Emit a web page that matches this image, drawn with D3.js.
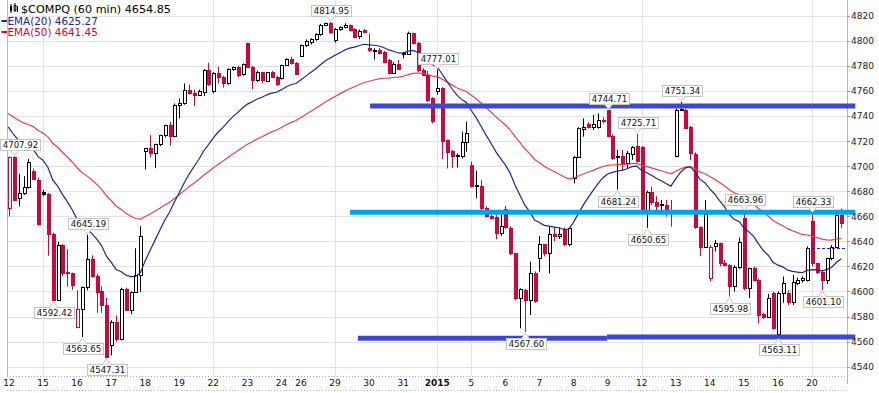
<!DOCTYPE html>
<html><head><meta charset="utf-8">
<script src="https://cdn.jsdelivr.net/npm/d3@7"></script>
<style>
html,body{margin:0;padding:0;background:#fff;}
svg{display:block;}
</style></head><body>
<svg id="chart" width="879" height="393"></svg>
<script>
// ---------------- DATA ----------------
const dayLabels = ["12","15","16","17","18","19","22","23","24","26","29","30","31","2015","5","6","7","8","9","12","13","14","15","16","20"];
const dayStart  = [0,7,14,21,28,35,42,49,56,60,67,74,81,88,95,102,109,116,123,130,137,144,151,158,165];
const gridDayStart = [7,42,67,88,95,130,165];
const yTickValues = [4540,4560,4580,4600,4620,4640,4660,4680,4700,4720,4740,4760,4780,4800,4820];

const opens = [
4666.4,4707.5,4674.4,4678.3,4683.6,4696,4689,
4679.6,4677.8,4646,4593,4637,4615.5,4614.5,
4571.9,4585.8,4603.2,4625.7,4612.3,4600,4589,
4557.3,4575.4,4562,4602,4585.5,4599.4,4613.2,
4712.3,4714.2,4710.7,4717.7,4724.8,4732.8,4724.3,
4749,4750,4760.7,4758.6,4757,4759,4776.7,
4760,4774,4771.4,4766,4777.2,4779,4773.2,
4798,4779.3,4768.7,4774.8,4768.2,4774.8,4771.4,
4770,4780.7,4785.5,4782,
4788.1,4796.6,4799.3,4801.4,4805.1,4812.6,4814,
4801,4809.1,4810.7,4812.6,4809,4803.8,4808.5,
4794,4792.5,4793,4791,4784.7,4774.6,4781.5,
4790.5,4789.5,4805.9,4798,4777,4773,4754,
4760.24,4762,4720.8,4712,4708.5,4708,4719.5,
4700.9,4684.8,4684.3,4666.3,4660.5,4659.7,4646.4,
4666,4651,4630.4,4595,4601.5,4593.5,4614.5,
4627,4637.6,4631,4645.6,4644,4650,4637.6,
4690.3,4707.6,4729.5,4733.6,4731.5,4731,4736.8,
4744.5,4724,4708.2,4708,4702.2,4710,4716,
4715.5,4665,4679.6,4671,4669.5,4669,4664.5,
4708.1,4744.8,4745,4731,4710,4651.7,4635.8,
4610.5,4636,4638.4,4622.5,4621.5,4604,4619.5,
4658.4,4602.5,4618.5,4609.2,4582,4580,4598.5,
4566,4598.5,4599,4592,4607,4609,4609.2,
4656.5,4622.5,4615.8,4609.2,4626.5,4635.8,4661];

const highs = [
4707.5,4707.92,4694,4692,4705.7,4698,4691,
4681,4678.5,4647,4639.7,4638,4633.7,4615,
4601,4604,4645.19,4629,4614,4604,4595,
4577,4581,4603,4603,4600,4634.5,4652.2,
4714.5,4724.8,4718,4725,4733,4735.5,4750,
4754,4766,4765,4761,4761,4777.5,4782.5,
4775,4779.3,4772,4778,4779.5,4780,4782,
4798.5,4780,4776,4775,4775,4776,4772,
4781,4786,4787.3,4783,
4797,4801,4802,4806,4813.5,4814.5,4814.95,
4810,4811.5,4814,4813,4810,4809,4809.5,
4805.9,4794,4794,4792,4785.5,4783,4784.5,
4791,4807.3,4806.5,4799,4778,4776,4755,
4777.01,4763,4721,4713,4710,4727.5,4735.5,
4703.6,4696.4,4689,4668,4661,4661,4662.4,
4668.2,4652,4631,4602.5,4602,4623.8,4616,
4644.3,4638,4651.7,4651.7,4651,4651,4651,
4708,4731,4738.1,4735,4740.8,4742,4739,
4744.71,4725,4713,4712.9,4712,4716,4725.71,
4716,4680.5,4683.6,4676,4673,4673,4673,
4746,4751.34,4746,4732,4711,4652,4673,
4637,4641,4639,4625,4622,4621,4643,
4663.96,4619,4620,4610,4583,4598,4600,
4600,4612,4601,4613.2,4611,4612,4636,
4662.33,4623,4617,4627,4637,4665,4666.3];

const lows = [
4660,4672,4668,4677,4682,4689,4652.5,
4676,4628.6,4592.42,4592.5,4612,4603.8,4601.3,
4570.7,4563.65,4601,4611,4583,4583,4547.31,
4549,4560,4561,4585,4582,4599,4599.8,
4697.5,4707,4698.4,4716,4723,4716.3,4723,
4738,4749,4757,4748,4756,4756,4764,
4758,4766,4762.6,4765,4776,4771,4772,
4779,4761.5,4767,4766,4767,4771,4764,
4769,4780,4781,4773,
4787,4795,4797,4800,4804,4812,4805.5,
4798.5,4808,4810,4807.5,4802,4801.5,4806,
4791,4785,4789,4782,4773,4773.5,4777,
4786,4789,4797,4775,4772,4751,4734,
4757,4705.7,4698.11,4698.5,4699,4706,4711.5,
4683,4674.3,4665,4659,4657.5,4641.6,4644.3,
4650,4629,4593,4570.6,4567.6,4581.2,4591,
4615.8,4628,4614.5,4640,4642,4636,4636,
4686.3,4707,4723.5,4730,4728.8,4730,4734,
4723,4705,4681.24,4697,4698,4705,4703,
4662,4650.65,4669,4665,4663.7,4659.7,4651.7,
4707,4744,4730,4704.9,4650,4628.3,4635,
4608,4632,4620,4620,4595.98,4600,4618,
4601,4594.8,4608,4574.6,4578,4579,4569.5,
4563.11,4591,4589,4589.2,4605,4607,4608,
4620,4614,4601.1,4606,4625,4635,4650.4];

const closes = [
4707,4673,4678.3,4683.6,4703.5,4689.5,4653.6,
4677.8,4645.9,4593,4637.1,4615,4614.5,4605.16,
4585.8,4603.2,4625.7,4612.3,4599.8,4589.2,4547.83,
4575.4,4561.9,4602,4585.5,4599.4,4613.2,4644.31,
4714.2,4710.7,4717.7,4724.8,4732.8,4724.3,4748.4,
4750,4760.7,4758.6,4757,4760,4776.7,4765.38,
4774,4771.4,4766,4777.2,4779,4772.7,4781.42,
4779.3,4768.7,4774.8,4768.7,4774.8,4771.4,4765.42,
4780.7,4785.5,4782,4773.47,
4796.6,4799.8,4801.4,4805.1,4812.6,4814,4806.91,
4809.1,4810.7,4812.6,4808.6,4802.7,4808.1,4806.86,
4792.6,4793,4790,4783.3,4774.6,4781.5,4777.44,
4789.5,4805.9,4798,4776.7,4773,4753,4736.05,
4762,4720,4711.5,4708,4708,4719.5,4726.81,
4684.1,4684.3,4666.3,4660,4659,4646.4,4652.57,
4651.7,4630.4,4594.5,4601.7,4593.2,4614.5,4592.74,
4637.6,4631,4645.6,4644,4646,4637.6,4650.47,
4707.6,4730.1,4731.5,4731,4733.6,4736.8,4736.19,
4724,4706.5,4707.1,4701.7,4710.2,4715.3,4704.07,
4663,4679.6,4671.5,4668,4669,4665,4664.71,
4744.8,4745.5,4730.7,4710.2,4651.7,4635.8,4661.5,
4635.8,4638.5,4622.5,4621.5,4604,4619.5,4639.32,
4602.5,4618.5,4609.2,4581.3,4580,4594.5,4570.82,
4598.5,4606.5,4592,4607.8,4609.2,4610.5,4634.38,
4622.5,4615.8,4609.2,4626.5,4635.8,4661,4654.85];

const closeBeforeFirstBar = 4708.16;
const ema20Start = 4733;   // EMA values read at the left edge
const ema50Start = 4743;

// annotated highs / lows (bar index, side)
const noteBars  = [1,16,9,15,20,66,88,123,129,138,125,106,131,151,148,165,167,158];
const noteSides = ["up","up","down","down","down","up","up","up","up","up","down","down","down","up","down","up","down","down"];

// hand-drawn level lines: price, start bar, end bar
const levelPrices = [4748.0, 4663.3, 4562.7, 4563.7];
const levelFrom   = [74.2, 70.1, 71.7, 122.9];
const levelTo     = [173.9, 173.9, 122.9, 173.9];
const levelColors = ["#3f48cc", "#00a2e8", "#3f48cc", "#3f48cc"];

const prevDayClose = 4634.38;   // dashed line on the last day
const prevDayLineFrom = 165;

const titleText = "$COMPQ (60 min) 4654.85";
const legendTexts = ["EMA(20) 4625.27", "EMA(50) 4641.45"];

// ---------------- CHART ----------------
const svg = d3.select("#chart");
const plot = {left: 7, right: 847, top: 0, bottom: 376};
const x = d3.scaleLinear().domain([0, 171]).range([8.93, 841.2]);
const y = d3.scaleLinear().domain([4540, 4820]).range([366.7, 15.7]);

const RED = "#d0053a", NAVY = "#23238f", EMA50C = "#e2405a";

svg.append("rect").attr("width", 879).attr("height", 393).attr("fill", "#fff");

svg.append("defs").append("clipPath").attr("id", "clip")
  .append("rect").attr("x", plot.left + 1).attr("y", plot.top)
  .attr("width", plot.right - plot.left - 1).attr("height", plot.bottom - plot.top);

// gridlines
svg.append("g").selectAll("line").data(yTickValues).join("line")
  .attr("x1", plot.left).attr("x2", plot.right)
  .attr("y1", d => Math.round(y(d)) + 0.5).attr("y2", d => Math.round(y(d)) + 0.5)
  .attr("stroke", "#e3e3e3").attr("stroke-width", 1);
svg.append("g").selectAll("line").data(gridDayStart).join("line")
  .attr("x1", d => Math.round(x(d)) + 0.5).attr("x2", d => Math.round(x(d)) + 0.5)
  .attr("y1", plot.top).attr("y2", plot.bottom)
  .attr("stroke", "#e3e3e3").attr("stroke-width", 1);

// frame
svg.append("line").attr("x1", plot.left + 0.5).attr("x2", plot.left + 0.5)
  .attr("y1", 0).attr("y2", plot.bottom).attr("stroke", "#b8b8b8");
svg.append("line").attr("x1", plot.right + 0.5).attr("x2", plot.right + 0.5)
  .attr("y1", 0).attr("y2", plot.bottom + 8).attr("stroke", "#b8b8b8");
svg.append("line").attr("x1", plot.left).attr("x2", plot.right)
  .attr("y1", plot.bottom + 0.5).attr("y2", plot.bottom + 0.5)
  .attr("stroke", "#a8a8a8").attr("stroke-dasharray", "1,2");
svg.append("line").attr("x1", plot.left).attr("x2", plot.right)
  .attr("y1", 390.5).attr("y2", 390.5)
  .attr("stroke", "#b8b8b8").attr("stroke-dasharray", "1,2");
// right axis ticks
svg.append("g").selectAll("line").data(yTickValues).join("line")
  .attr("x1", plot.right).attr("x2", plot.right + 3)
  .attr("y1", d => Math.round(y(d)) + 0.5).attr("y2", d => Math.round(y(d)) + 0.5)
  .attr("stroke", "#999");

// candles
const bars = d3.range(closes.length).map(i => ({
  i, o: opens[i], h: highs[i], l: lows[i], c: closes[i],
  pc: i === 0 ? closeBeforeFirstBar : closes[i - 1]
}));
const cg = svg.append("g").attr("clip-path", "url(#clip)");
bars.forEach(b => {
  const px = Math.round(x(b.i));
  const col = b.c >= b.pc ? "#000" : RED;
  const hollow = b.c > b.o;
  const top = Math.round(y(Math.max(b.o, b.c)));
  const bot = Math.round(y(Math.min(b.o, b.c)));
  cg.append("line").attr("x1", px + 0.5).attr("x2", px + 0.5)
    .attr("y1", y(b.h)).attr("y2", y(b.l)).attr("stroke", col).attr("stroke-width", 1);
  if (hollow) {
    cg.append("rect").attr("x", px - 0.5).attr("y", top + 0.5)
      .attr("width", 3).attr("height", Math.max(1, bot - top))
      .attr("fill", "#fff").attr("stroke", col).attr("stroke-width", 1);
  } else {
    cg.append("rect").attr("x", px - 1).attr("y", top)
      .attr("width", 4).attr("height", Math.max(1, bot - top + 1))
      .attr("fill", col);
  }
});

// EMA overlays (computed from the closes, as the chart does)
function ema(period, start) {
  const k = 2 / (period + 1);
  let e = start;
  const out = [{i: -1, v: start}];
  closes.forEach((c, i) => { e = c * k + e * (1 - k); out.push({i, v: e}); });
  return out;
}
const line = d3.line().x(d => x(d.i)).y(d => y(d.v));
cg.append("path").datum(ema(50, ema50Start)).attr("d", line)
  .attr("fill", "none").attr("stroke", EMA50C).attr("stroke-width", 1.2);
cg.append("path").datum(ema(20, ema20Start)).attr("d", line)
  .attr("fill", "none").attr("stroke", NAVY).attr("stroke-width", 1.2);

// level lines
svg.append("g").selectAll("line").data(levelPrices).join("line")
  .attr("x1", (d, k) => x(levelFrom[k])).attr("x2", (d, k) => x(levelTo[k]))
  .attr("y1", d => y(d)).attr("y2", d => y(d))
  .attr("stroke", (d, k) => levelColors[k]).attr("stroke-width", 5);

// dashed previous close line
svg.append("line")
  .attr("x1", x(prevDayLineFrom)).attr("x2", plot.right)
  .attr("y1", Math.round(y(prevDayClose)) + 0.5).attr("y2", Math.round(y(prevDayClose)) + 0.5)
  .attr("stroke", "#1a1aff").attr("stroke-width", 1).attr("stroke-dasharray", "3,2");

// price notes
const ng = svg.append("g");
noteBars.forEach((bi, k) => {
  const up = noteSides[k] === "up";
  const v = up ? highs[bi] : lows[bi];
  const cx = Math.round(x(bi)) + 0.5;
  const vy = y(v);
  const g = ng.append("g");
  const t = g.append("text").text(v.toFixed(2))
    .attr("font-family", "DejaVu Sans").attr("font-size", "8.6px").attr("fill", "#111")
    .attr("text-anchor", "middle");
  const tw = t.node().getComputedTextLength();
  const bw = Math.round(tw + 4), bh = 11;
  const bx = Math.max(0.5, Math.round(cx - bw / 2) + 0.5);
  const by = up ? Math.round(vy - 6 - bh) + 0.5 : Math.round(vy + 6) + 0.5;
  g.insert("rect", "text").attr("x", bx).attr("y", by).attr("width", bw).attr("height", bh)
    .attr("fill", "#fff").attr("stroke", "#c4c4c4");
  const tipY = up ? vy - 1 : vy + 1;
  const baseY = up ? by + bh : by;
  g.insert("path", "text").attr("d", `M${cx - 4},${baseY} L${cx},${tipY} L${cx + 4},${baseY}`)
    .attr("fill", "#fff").attr("stroke", "#c4c4c4");
  t.attr("x", bx + bw / 2).attr("y", by + 8.5);
});

// right axis labels
svg.append("g").selectAll("text").data(yTickValues).join("text")
  .attr("x", 851).attr("y", d => y(d) + 3.5)
  .attr("font-family", "DejaVu Sans").attr("font-size", "9px").attr("fill", "#222")
  .text(d => d);

// bottom axis labels
svg.append("g").selectAll("text").data(dayLabels).join("text")
  .attr("x", (d, k) => Math.max(7, x(dayStart[k]))).attr("y", 386)
  .attr("text-anchor", "middle")
  .attr("font-family", "DejaVu Sans").attr("font-size", "9px").attr("fill", "#111")
  .attr("font-weight", d => d.length === 4 ? "bold" : "normal")
  .text(d => d);

// title + legend
const lg = svg.append("g");
lg.append("rect").attr("x", 10).attr("y", 6).attr("width", 2).attr("height", 5).attr("fill", "#000");
lg.append("line").attr("x1", 11).attr("x2", 11).attr("y1", 4).attr("y2", 13).attr("stroke", "#000");
lg.append("rect").attr("x", 14).attr("y", 5.5).attr("width", 2).attr("height", 5).attr("fill", "none").attr("stroke", "#000").attr("stroke-width", 0.8);
lg.append("line").attr("x1", 15).attr("x2", 15).attr("y1", 3).attr("y2", 12).attr("stroke", "#000");
lg.append("line").attr("x1", 17.5).attr("x2", 17.5).attr("y1", 6).attr("y2", 12).attr("stroke", "#000");
lg.append("text").attr("x", 21).attr("y", 13).attr("font-family", "DejaVu Sans").attr("font-size", "11.2px")
  .attr("fill", "#000").text(titleText);
[NAVY, RED].forEach((c, k) => {
  const yy = 21 + k * 11;
  lg.append("line").attr("x1", 1.5).attr("x2", 7).attr("y1", yy).attr("y2", yy)
    .attr("stroke", c).attr("stroke-width", 2);
  lg.append("text").attr("x", 7.5).attr("y", yy + 3.8).attr("font-family", "DejaVu Sans")
    .attr("font-size", "10.4px").attr("fill", c).text(legendTexts[k]);
});
</script>
</body></html>
